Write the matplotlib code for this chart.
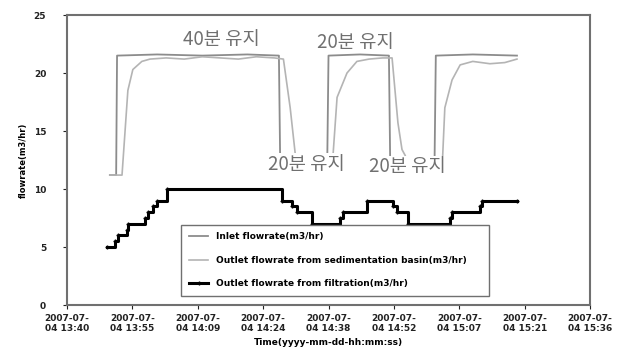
import matplotlib
matplotlib.use("Agg")
import matplotlib.pyplot as plt

# time in minutes after 2007-07-04 13:40
inlet_t = [9.5, 10.9, 11.1, 20.0, 30.0, 40.0, 47.0, 47.3, 57.7, 58.0, 65.0, 71.4, 71.7, 81.5, 81.8, 90.0, 99.8]
inlet_v = [11.2, 11.2, 21.5, 21.6, 21.5, 21.6, 21.5, 11.7, 11.7, 21.5, 21.6, 21.5, 11.7, 11.7, 21.5, 21.6, 21.5]

outlet_t = [9.5, 12.2, 13.5, 14.6, 16.6, 18.4, 22.0, 26.0, 30.0, 34.0, 38.0, 42.0, 46.0, 48.0, 49.5, 50.6,
            51.3, 58.8, 59.9, 62.1, 64.3, 67.0, 70.0, 72.1, 73.4, 74.3, 75.0, 76.0, 83.2, 83.8, 85.4, 87.2,
            90.0, 93.8, 97.1, 99.8]
outlet_v = [11.2, 11.2, 18.5, 20.3, 21.0, 21.2, 21.3, 21.2, 21.4, 21.3, 21.2, 21.4, 21.3, 21.2, 17.0, 13.1,
            11.8, 11.8, 17.9, 20.0, 21.0, 21.2, 21.3, 21.3, 15.7, 13.4, 12.9, 11.8, 11.8, 17.0, 19.4, 20.7,
            21.0, 20.8, 20.9, 21.2]

filt_t = [8.9, 10.6, 11.3, 13.3, 13.5, 17.3, 18.0, 19.1, 20.0, 22.2, 47.7, 49.9, 51.0, 54.3, 60.6, 61.2,
          66.6, 72.3, 73.2, 75.6, 84.9, 85.4, 91.6, 92.0, 99.8]
filt_v = [5.0, 5.5, 6.0, 6.5, 7.0, 7.5, 8.0, 8.5, 9.0, 10.0, 9.0, 8.5, 8.0, 7.0, 7.5, 8.0,
          9.0, 8.5, 8.0, 7.0, 7.5, 8.0, 8.5, 9.0, 9.0]

tick_pos = [0, 14.5, 29, 43.5, 58, 72.5, 87, 101.5, 116]
tick_labels = ["2007-07-\n04 13:40", "2007-07-\n04 13:55", "2007-07-\n04 14:09", "2007-07-\n04 14:24",
               "2007-07-\n04 14:38", "2007-07-\n04 14:52", "2007-07-\n04 15:07", "2007-07-\n04 15:21",
               "2007-07-\n04 15:36"]

# annotation text, x, y, white backing
notes = [("40분 유지", 34.2, 22.9, False), ("20분 유지", 63.9, 22.6, False),
         ("20분 유지", 53.2, 12.1, True), ("20분 유지", 75.4, 11.9, True)]

fig = plt.figure(figsize=(6.28, 3.54), dpi=100)
ax = fig.add_axes([0.1067, 0.1384, 0.8328, 0.8192])

ax.plot(inlet_t, inlet_v, color="#8c8c8c", lw=1.3, label="Inlet flowrate(m3/hr)")
ax.plot(outlet_t, outlet_v, color="#b4b4b4", lw=1.2, label="Outlet flowrate from sedimentation basin(m3/hr)")
ax.plot(filt_t, filt_v, color="black", lw=2.2, drawstyle="steps-post", marker="+", ms=3,
        label="Outlet flowrate from filtration(m3/hr)")

for txt, x, y, backed in notes:
    box = dict(facecolor="white", edgecolor="none", pad=0.5) if backed else None
    ax.text(x, y, txt, ha="center", va="center", fontsize=13.5, color="#707070",
            family=["Noto Sans CJK KR", "DejaVu Sans"], bbox=box)

ax.set_xlim(0, 116)
ax.set_ylim(0, 25)
ax.set_yticks([0, 5, 10, 15, 20, 25])
ax.set_xticks(tick_pos)
ax.set_xticklabels(tick_labels)
ax.tick_params(axis="both", labelsize=6.5, length=3, colors="#222222")
ax.tick_params(axis="y", pad=12)
for lab in ax.get_xticklabels() + ax.get_yticklabels():
    lab.set_fontweight("bold")

for s in ax.spines.values():
    s.set_color("#707070")
    s.set_linewidth(1.5)

ax.set_ylabel("flowrate(m3/hr)", fontsize=6, fontweight="bold", labelpad=4)
ax.set_xlabel("Time(yyyy-mm-dd-hh:mm:ss)", fontsize=6.5, fontweight="bold", labelpad=3)

ax.legend(loc="lower left", bbox_to_anchor=(0.21, 0.017, 0.605, 0.224), mode="expand",
          fancybox=False, edgecolor="#707070", framealpha=1,
          prop={"weight": "bold", "size": 6.5}, labelspacing=1.6, handlelength=2.2,
          borderpad=0.8)

fig.savefig("out.png", dpi=100)
